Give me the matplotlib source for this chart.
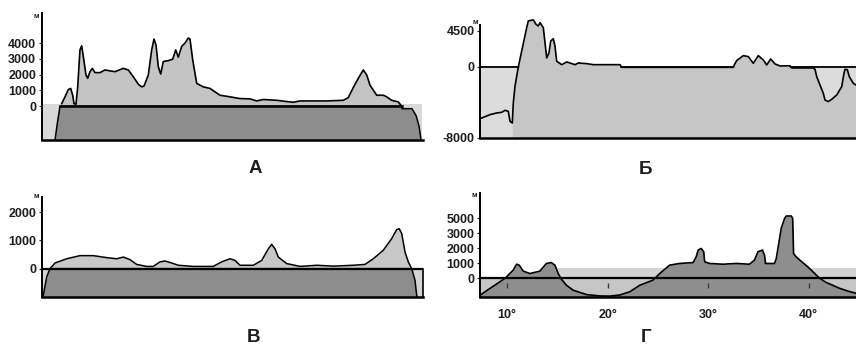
import numpy as np
import matplotlib
matplotlib.use("Agg")
import matplotlib.pyplot as plt

plt.rcParams['font.family'] = ['Liberation Sans', 'DejaVu Sans']

# ---------------- data ----------------
# Panel A (distance in profile units, elevation in m)
a_dist = [20, 23.3, 26.6, 29, 31, 32.3, 34.3, 36, 38.3, 40, 41.6, 44.3, 46, 48.3, 50.6, 53.3, 58.3,
          63.3, 66.6, 73.3, 81.6, 86.6, 91.6, 96.6, 100, 102.3, 106.6, 110, 112.3, 114.3, 116.6, 119,
          121.6, 126.6, 131, 134, 136.6, 140, 143.3, 146.6, 148.3, 151, 155, 161.6, 168.3, 178.3,
          188.3, 198.3, 208.3, 215, 221.6, 235, 245, 251.6, 258.3, 285, 301.6, 306.6, 311.6, 316.6,
          321.6, 325, 328.3, 335, 341.6, 345, 350, 356.6, 360]
a_elev = [170, 600, 1060, 1130, 700, 170, 130, 1230, 3570, 3830, 3150, 1980, 1770, 2190, 2400, 2130,
          2130, 2300, 2260, 2190, 2400, 2300, 1870, 1400, 1230, 1280, 1980, 3570, 4250, 3890, 2510,
          2040, 2830, 2890, 2980, 3570, 3110, 3790, 4000, 4320, 4250, 2940, 1450, 1230, 1130, 700,
          600, 490, 470, 340, 430, 380, 300, 255, 340, 340, 380, 550, 1190, 1770, 2300, 1980, 1340,
          700, 700, 600, 380, 280, 0]
a_crust_dist = [13.3, 15.8, 18.3, 360.3, 360.3, 370.3, 374.5, 377.5, 379.3]
a_crust_elev = [-2130, -1000, 0, 0, -150, -150, -600, -1300, -2130]
a_yticks = [0, 1000, 2000, 3000, 4000]

# Panel Б
b_dist = [1.7, 10, 16.7, 21.7, 25, 28.3, 30, 32.3, 33.3, 35, 38.3, 46.7, 48.3, 53.3, 56, 58.3, 60,
          63.3, 65, 66.7, 69, 70.7, 73.3, 75, 76.7, 81.7, 86.7, 90, 95, 98.3, 106.7, 113.3, 140,
          141.7, 253, 256.7, 263.3, 268.3, 273.3, 278.3, 283.3, 286.7, 290.7, 295, 300, 310, 311.7,
          333.3, 335, 336.7, 340, 343.3, 345, 348.3, 351.7, 356.7, 361.7, 364, 365, 367.3, 369.3,
          373.3, 376]
b_elev = [-5750, -5370, -5180, -5110, -4880, -5000, -6120, -6310, -4060, -2180, 0, 4920, 5760, 5890,
          5340, 5130, 5550, 4920, 3030, 1140, 1770, 3240, 3530, 2610, 720, 290, 630, 500, 290, 500,
          420, 290, 290, -40, -40, 800, 1420, 1300, 460, 1420, 880, 250, 1000, 380, 130, 150, -110,
          -110, -260, -1090, -2030, -2970, -3720, -3900, -3640, -3160, -2220, -710, -260, -300,
          -1090, -1840, -2030]
b_yticks = [-8000, 0, 4500]
b_yticklabels = ['-8000', '0', '4500']

# Panel В
v_dist = [8.3, 13.3, 25, 38.3, 51.6, 65, 75, 81.6, 88.3, 95, 105, 111.6, 118.3, 123.3, 130, 136.6,
          151.6, 171.6, 180, 188.3, 193.3, 198.3, 211.6, 220, 226.6, 230, 233.3, 236.6, 245, 258.3,
          275, 291.6, 311.6, 323.3, 331.6, 341.6, 350, 355, 357.6, 360, 363.3, 366.6, 370]
v_elev = [0, 200, 350, 460, 460, 390, 350, 410, 320, 150, 80, 80, 240, 270, 200, 120, 80, 80, 240,
          350, 290, 120, 120, 290, 700, 860, 700, 410, 180, 80, 120, 90, 120, 150, 350, 650, 1060,
          1380, 1410, 1240, 590, 240, 0]
v_crust_dist = [1.0, 1.6, 5.0, 8.3, 370, 373.3, 375, 375.6]
v_crust_elev = [-1000, -940, -290, 0, 0, -410, -940, -1000]
v_yticks = [0, 1000, 2000]

# Panel Г (longitude in degrees, elevation in m)
g_lon = [7.3, 9.8, 10.1, 10.6, 10.94, 11.2, 11.6, 12.27, 13.26, 13.9, 14.4, 14.75, 15.08, 15.4, 15.9,
         16.57, 17.9, 19.2, 20.2, 21.2, 22.2, 23.19, 24.5, 25.18, 26.17, 27.16, 28.5, 28.8, 29.0,
         29.3, 29.55, 29.65, 30.14, 31.47, 32.8, 34.1, 34.6, 34.95, 35.4, 35.6, 35.7, 36.6, 36.77,
         37.26, 37.6, 37.76, 38.26, 38.4, 38.49, 38.75, 39.4, 39.9, 40.6, 41.07, 41.7, 43.06, 44.05,
         44.7]
g_elev = [-1130, 0, 200, 530, 930, 870, 470, 310, 470, 980, 1040, 870, 310, -70, -470, -800, -1090,
          -1180, -1190, -1120, -900, -470, -130, 310, 870, 980, 1040, 1420, 1870, 1980, 1760, 1090,
          980, 930, 980, 930, 1200, 1760, 1870, 1530, 980, 980, 1310, 3630, 4960, 5270, 5270, 4960,
          1640, 1420, 1040, 760, 310, 0, -270, -670, -890, -1000]
g_yticks = [0, 1000, 2000, 3000, 5000]
g_xticks = [10, 20, 30, 40]
g_xticklabels = ['10°', '20°', '30°', '40°']

panel_titles = ['А', 'Б', 'В', 'Г']

# ---------------- figure ----------------
W, H = 856, 348
fig = plt.figure(figsize=(W / 100, H / 100), dpi=100)


def ax_px(l, t, r, b):
    return fig.add_axes([l / W, 1 - b / H, (r - l) / W, (b - t) / H])


TXT = '#1e1e1e'
FS = 9


def style(ax, left=True, bottom=True, right=False):
    ax.patch.set_alpha(0)
    for s in ['top', 'right', 'left', 'bottom']:
        ax.spines[s].set_visible(False)
    if left:
        ax.spines['left'].set_visible(True)
        ax.spines['left'].set_linewidth(1.4)
    if bottom:
        ax.spines['bottom'].set_visible(True)
        ax.spines['bottom'].set_linewidth(1.8)
    if right:
        ax.spines['right'].set_visible(True)
        ax.spines['right'].set_linewidth(1.2)
    ax.tick_params(axis='y', length=2, width=0.8, pad=2, labelsize=FS, colors=TXT)
    for lab in ax.get_yticklabels():
        lab.set_fontweight('bold')
    ax.tick_params(axis='x', bottom=False, labelbottom=False)


DARK = '#8d8d8d'
MID = '#c4c4c4'
LIGHT = '#d9d9d9'

# ---------- Panel A ----------
ax = ax_px(41.7, 13, 423, 140)
ax.set_xlim(0, 381.3)
ax.set_ylim(-2130, 5900)
ax.fill_between([0, 380], -2130, 150, color=LIGHT, lw=0, zorder=1)
ax.fill(a_crust_dist, a_crust_elev, color=DARK, lw=0, zorder=2)
ax.plot(a_crust_dist, a_crust_elev, color='k', lw=1.1, zorder=4)
ax.fill_between(a_dist, 0, a_elev, color=MID, lw=0, zorder=2)
ax.plot(a_dist, a_elev, color='k', lw=1.2, zorder=4)
ax.plot([a_crust_dist[2], a_crust_dist[3]], [0, 0], color='k', lw=1.8, zorder=5)
ax.set_yticks(a_yticks)
ax.set_yticklabels([str(v) for v in a_yticks], fontweight='bold')
style(ax)
ax.text(-3, 5900, 'м', ha='right', va='top', fontsize=5.5, fontweight='bold', color=TXT)

# ---------- Panel Б ----------
KB = 1.11
ax = ax_px(480, 20.6, 856, 138)
ax.set_yscale('function', functions=(lambda y: np.where(y >= 0, y, y * KB),
                                     lambda y: np.where(y >= 0, y, y / KB)))
ax.set_xlim(0, 376)
ax.set_ylim(-8000, 5800)
bd = np.array(b_dist)
be = np.array(b_elev)
ax.fill_between([0, 376], -8000, 0, color='#dcdcdc', lw=0, zorder=1)
land = bd >= 32.3
ax.fill_between(bd[land], -8000, be[land], color='#c6c6c6', lw=0, zorder=2, clip_on=False)
xx = np.linspace(0, 376, 3000)
yy = np.interp(xx, bd, be)
ax.plot(xx, np.where(yy <= 60, 0, np.nan), color='k', lw=1.3, zorder=4)
ax.plot(bd, be, color='k', lw=1.2, zorder=5, clip_on=False)
ax.set_yticks(b_yticks)
ax.set_yticklabels(b_yticklabels, fontweight='bold')
style(ax)
ax.spines['left'].set_bounds(-8000, 5250)
ax.text(-2, 5500, 'м', ha='right', va='center', fontsize=5.5, fontweight='bold', color=TXT)

# ---------- Panel В ----------
ax = ax_px(41.7, 197, 423, 297)
ax.set_xlim(0, 381.3)
ax.set_ylim(-1000, 2530)
ax.fill_between([0, 381.3], -1000, 0, color='#d4d4d4', lw=0, zorder=1)
ax.fill(v_crust_dist, v_crust_elev, color=DARK, lw=0, zorder=2)
ax.plot(v_crust_dist, v_crust_elev, color='k', lw=1.1, zorder=4)
ax.fill_between(v_dist, 0, v_elev, color='#c8c8c8', lw=0, zorder=2)
ax.plot(v_dist, v_elev, color='k', lw=1.1, zorder=4)
ax.axhline(0, color='k', lw=1.6, zorder=5)
ax.set_yticks(v_yticks)
ax.set_yticklabels([str(v) for v in v_yticks], fontweight='bold')
style(ax, right=True)
ax.spines['right'].set_bounds(-1000, 0)
ax.tick_params(axis='y', right=False)
ax.text(-3, 2530, 'м', ha='right', va='center', fontsize=5.5, fontweight='bold', color=TXT)

# ---------- Panel Г ----------
ax = ax_px(480, 193, 856, 297)
ax.set_yscale('function', functions=(lambda y: np.where(y <= 3000, y, 3000 + (y - 3000) / 2),
                                     lambda y: np.where(y <= 3000, y, 3000 + (y - 3000) * 2)))
ax.set_xlim(7.3, 44.7)
ax.set_ylim(-1250, 8330)
ax.fill_between([7.3, 44.7], -1250, 0, color='#c6c6c6', lw=0, zorder=1)
ax.fill_between([14.5, 44.7], 0, 650, color='#d3d3d3', lw=0, zorder=1)
ax.fill_between(g_lon, -1250, g_elev, color='#8e8e8e', lw=0, zorder=2)
ax.plot(g_lon, g_elev, color='k', lw=1.2, zorder=4)
ax.axhline(0, color='k', lw=1.6, zorder=5)
ax.vlines(g_xticks, -680, -300, color='#3a3a3a', lw=1.0, zorder=3)
ax.set_yticks(g_yticks)
ax.set_yticklabels([str(v) for v in g_yticks], fontweight='bold')
style(ax)
ax.tick_params(axis='x', bottom=False, labelbottom=True, pad=5, labelsize=FS, colors=TXT)
ax.set_xticks(g_xticks)
ax.set_xticklabels(g_xticklabels, fontweight='bold')
ax.text(7.0, 8000, 'м', ha='right', va='center', fontsize=5.5, fontweight='bold', color=TXT)

# ---------- panel letters ----------
for t, (px, py) in zip(panel_titles, [(255, 168), (646, 169), (254, 337), (646, 337)]):
    fig.text(px / W, 1 - py / H, t, ha='center', va='center', fontsize=13.5,
             fontweight='bold', color=TXT)

fig.savefig('out.png', dpi=100)
